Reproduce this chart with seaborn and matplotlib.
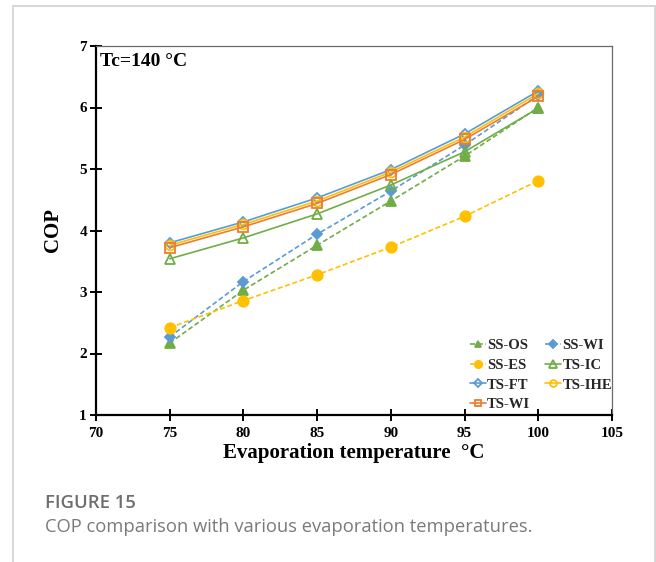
import matplotlib
matplotlib.use("Agg")
import matplotlib.pyplot as plt
from matplotlib.lines import Line2D
import seaborn as sns
import pandas as pd

# ---- data ----
evap_temp = [75, 80, 85, 90, 95, 100]
ss_os = [2.17, 3.03, 3.76, 4.48, 5.21, 6.00]
ss_wi = [2.27, 3.17, 3.94, 4.64, 5.39, 6.20]
ss_es = [2.42, 2.86, 3.28, 3.73, 4.23, 4.81]
ts_ic = [3.54, 3.88, 4.27, 4.74, 5.28, 5.99]
ts_ft = [3.80, 4.14, 4.53, 4.99, 5.57, 6.27]
ts_ihe = [3.76, 4.10, 4.48, 4.95, 5.52, 6.23]
ts_wi = [3.72, 4.06, 4.44, 4.91, 5.48, 6.18]
x_ticks = [70, 75, 80, 85, 90, 95, 100, 105]
y_ticks = [1, 2, 3, 4, 5, 6, 7]

sns.set_theme(style="white")
plt.rcParams['font.family'] = ['Liberation Serif', 'DejaVu Serif']

GREEN = '#70AD47'
BLUE = '#5B9BD5'
YELLOW = '#FFC000'
ORANGE = '#ED7D31'

W, H = 656, 562
fig = plt.figure(figsize=(W / 100, H / 100), dpi=100)
fig.patch.set_facecolor('white')

# card border
bc = '#d6d6d6'
for xs, ys in [([13, 13], [H + 5, 6]), ([13, 655], [6, 6]), ([655, 655], [6, H + 5])]:
    fig.add_artist(Line2D([x / W for x in xs], [1 - y / H for y in ys],
                          transform=fig.transFigure, color=bc, lw=1.4))

L, R, T, B = 96, 612, 46, 415
ax = fig.add_axes([L / W, 1 - B / H, (R - L) / W, (B - T) / H])

series = [
    ('SS-OS', ss_os, GREEN, '^', True, 7),
    ('SS-WI', ss_wi, BLUE, 'D', True, 5.5),
    ('SS-ES', ss_es, YELLOW, 'o', True, 7.5),
    ('TS-IC', ts_ic, GREEN, '^', False, 7.5),
    ('TS-FT', ts_ft, BLUE, 'D', False, 5.5),
    ('TS-IHE', ts_ihe, YELLOW, 'o', False, 7),
    ('TS-WI', ts_wi, ORANGE, 's', False, 6.5),
]
handles = {}
for name, vals, col, mk, filled, ms in series:
    df = pd.DataFrame({'T': evap_temp, 'COP': vals})
    kw = dict(color=col, marker=mk, markersize=ms, linewidth=1.2,
              markeredgecolor=col, markeredgewidth=1.3,
              markerfacecolor=col if filled else 'none')
    if filled:
        kw['dashes'] = (3, 1.6)
    sns.lineplot(data=df, x='T', y='COP', ax=ax, label=name, **kw)
for h in ax.get_lines():
    handles[h.get_label()] = h

ax.set_xlim(70, 105)
ax.set_ylim(1, 7)
ax.set_xticks(x_ticks)
ax.set_yticks(y_ticks)
ax.tick_params(axis='both', direction='inout', length=9, width=1.4,
               color='black', labelsize=11, pad=2, labelcolor='black',
               bottom=True, left=True, top=False, right=False)
for lab in ax.get_xticklabels() + ax.get_yticklabels():
    lab.set_fontweight('bold')
ax.tick_params(axis='x', pad=4)

for s in ['left', 'bottom']:
    ax.spines[s].set_color('black')
    ax.spines[s].set_linewidth(1.6)
for s in ['top', 'right']:
    ax.spines[s].set_color('#6a6a6a')
    ax.spines[s].set_linewidth(0.9)

ax.set_xlabel('Evaporation temperature  °C', fontsize=15, fontweight='bold', color='black')
ax.set_ylabel('COP', fontsize=15, fontweight='bold', color='black')
ax.xaxis.set_label_coords(0.5, -0.075)
ax.yaxis.set_label_coords(-0.064, 0.5)

ax.text(0.008, 0.957, 'Tc=140 °C', transform=ax.transAxes, fontsize=14,
        fontweight='bold', ha='left', va='center', color='black')

order = ['SS-OS', 'SS-ES', 'TS-FT', 'TS-WI', 'SS-WI', 'TS-IC', 'TS-IHE']
leg = ax.legend([handles[n] for n in order], order, ncol=2, loc='lower right',
                bbox_to_anchor=((612 - L) / (R - L), 0.01), frameon=False,
                handlelength=1.1, handletextpad=0.1, columnspacing=1.0,
                labelspacing=0.45, borderpad=0.0, borderaxespad=0.0,
                markerscale=0.7,
                prop={'family': 'Liberation Serif', 'weight': 'bold', 'size': 10.5})

fig.text(45 / W, 1 - 503 / H, 'FIGURE 15', fontsize=13.3, fontweight='semibold',
         family=['Open Sans', 'DejaVu Sans'], color='#6e6e6e', ha='left', va='center')
fig.text(45 / W, 1 - 527 / H, 'COP comparison with various evaporation temperatures.',
         fontsize=13.2, family=['Open Sans', 'DejaVu Sans'], color='#7a7a7a',
         ha='left', va='center')

fig.savefig('out.png', dpi=100, facecolor='white')
